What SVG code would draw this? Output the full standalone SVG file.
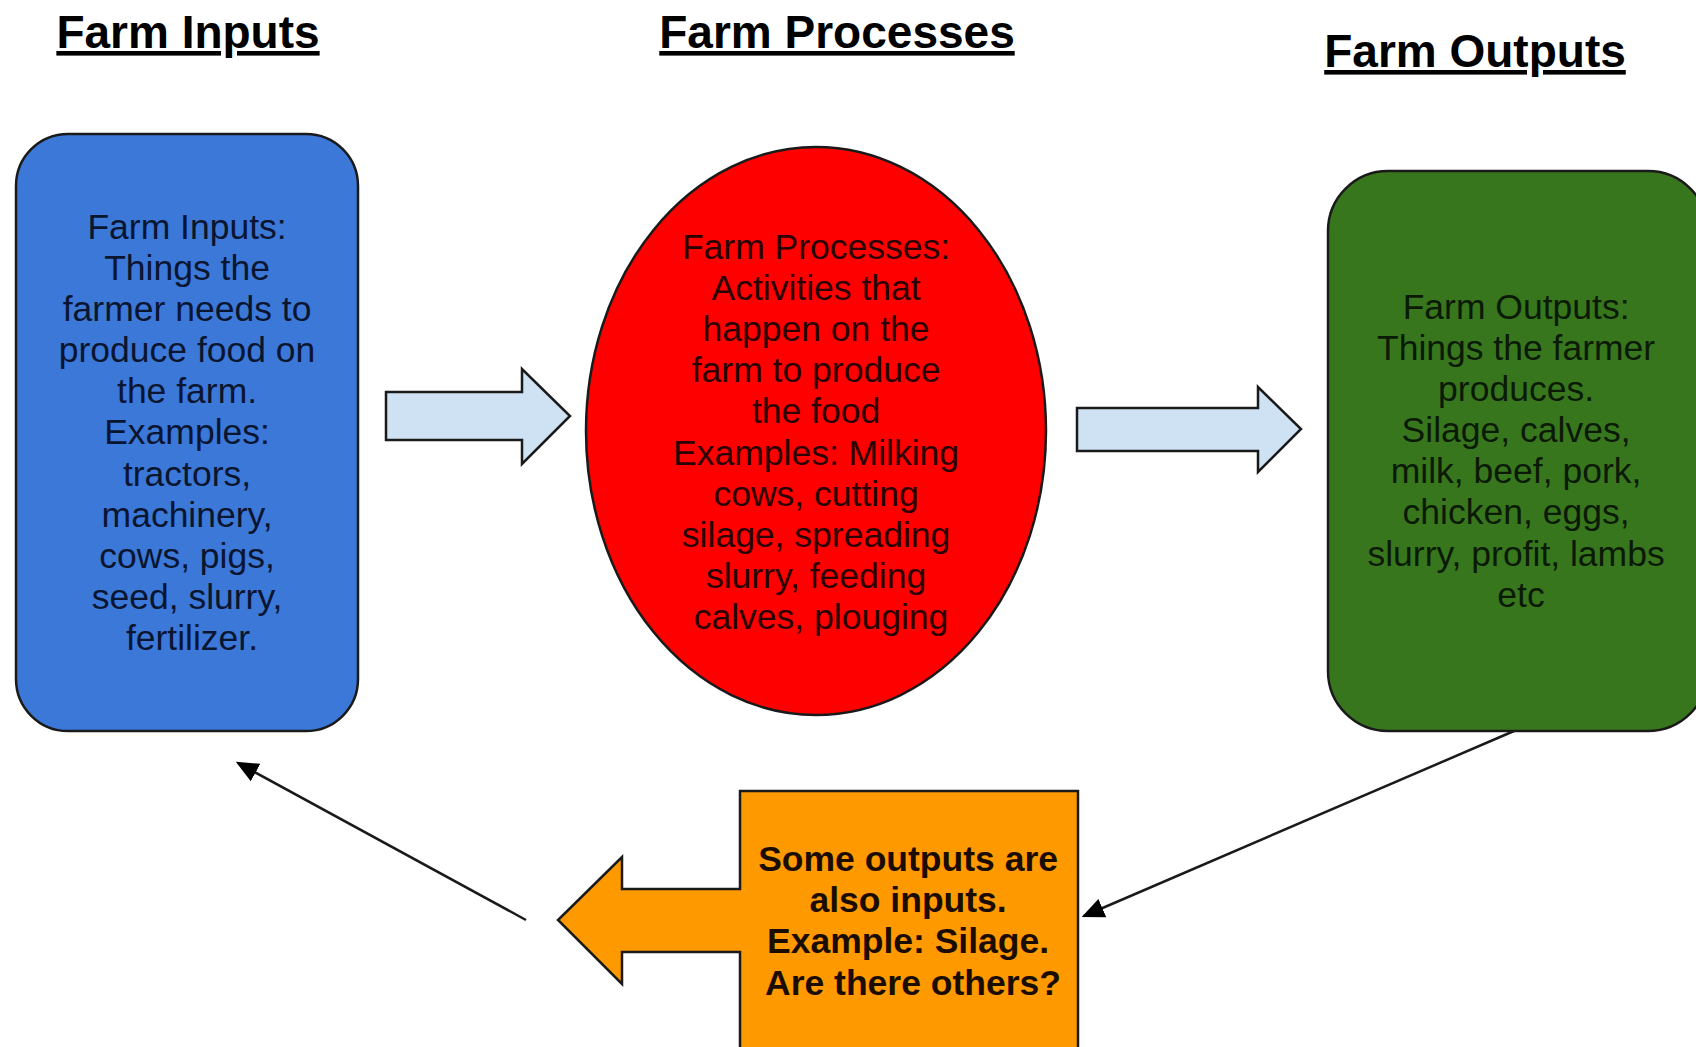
<svg xmlns="http://www.w3.org/2000/svg" width="1696" height="1047" viewBox="0 0 1696 1047">
<style>
.title{font-family:"Liberation Sans",Arial,sans-serif;font-weight:bold;font-size:46px;fill:#000;text-anchor:middle;text-decoration:underline}
.body{font-family:"Liberation Sans",Arial,sans-serif;font-size:35.5px;text-anchor:middle}
.bold{font-weight:bold}
.shape{stroke:#1a1a1a;stroke-width:2.5}
.conn{stroke:#1a1a1a;stroke-width:2.5;fill:none}
</style>
<defs>
<marker id="ah" markerWidth="10" markerHeight="10" refX="8" refY="5" orient="auto" markerUnits="strokeWidth" viewBox="0 0 10 10">
<path d="M0,1 L9,5 L0,9 Z" fill="#000"/>
</marker>
</defs>
<rect width="1696" height="1047" fill="#fff"/>
<g id="titles">
<text class="title" x="188" y="48">Farm Inputs</text>
<text class="title" x="837" y="48">Farm Processes</text>
<text class="title" x="1475" y="67">Farm Outputs</text>
</g>
<g id="connectors">
<line class="conn" x1="1514" y1="731" x2="1084" y2="916" marker-end="url(#ah)"/>
<line class="conn" x1="526" y1="920" x2="238" y2="763" marker-end="url(#ah)"/>
</g>
<g id="arrow1">
<polygon class="shape" fill="#cfe2f3" points="386,392 522,392 522,369 570,416 522,464 522,440 386,440"/>
</g>
<g id="arrow2">
<polygon class="shape" fill="#cfe2f3" points="1077,408 1258,408 1258,387 1301,429 1258,472 1258,451 1077,451"/>
</g>
<g id="inputs">
<rect class="shape" x="16" y="134" width="342" height="597" rx="52" fill="#3c78d8"/>
<text class="body" fill="#0a1530">
<tspan x="192" y="239">Farm Inputs:</tspan>
<tspan x="192" y="280">Things the</tspan>
<tspan x="192" y="321">farmer needs to</tspan>
<tspan x="192" y="362">produce food on</tspan>
<tspan x="192" y="403">the farm.</tspan>
<tspan x="192" y="444">Examples:</tspan>
<tspan x="192" y="486">tractors,</tspan>
<tspan x="192" y="527">machinery,</tspan>
<tspan x="192" y="568">cows, pigs,</tspan>
<tspan x="192" y="609">seed, slurry,</tspan>
<tspan x="192" y="650">fertilizer.</tspan>
</text>
</g>
<g id="processes">
<ellipse class="shape" cx="816" cy="431" rx="230" ry="284" fill="#ff0000"/>
<text class="body" fill="#2a0000">
<tspan x="821" y="259">Farm Processes:</tspan>
<tspan x="821" y="300">Activities that</tspan>
<tspan x="821" y="341">happen on the</tspan>
<tspan x="821" y="382">farm to produce</tspan>
<tspan x="821" y="423">the food</tspan>
<tspan x="821" y="465">Examples: Milking</tspan>
<tspan x="821" y="506">cows, cutting</tspan>
<tspan x="821" y="547">silage, spreading</tspan>
<tspan x="821" y="588">slurry, feeding</tspan>
<tspan x="821" y="629">calves, plouging</tspan>
</text>
</g>
<g id="outputs">
<rect class="shape" x="1328" y="171" width="380" height="560" rx="60" fill="#38761d"/>
<text class="body" fill="#0a1a05">
<tspan x="1521" y="319">Farm Outputs:</tspan>
<tspan x="1521" y="360">Things the farmer</tspan>
<tspan x="1521" y="401">produces.</tspan>
<tspan x="1521" y="442">Silage, calves,</tspan>
<tspan x="1521" y="483">milk, beef, pork,</tspan>
<tspan x="1521" y="524">chicken, eggs,</tspan>
<tspan x="1521" y="566">slurry, profit, lambs</tspan>
<tspan x="1521" y="607">etc</tspan>
</text>
</g>
<g id="feedback">
<path class="shape" fill="#ff9900" d="M740,791 H1078 V1060 H740 V952 H622 V984 L558,920 L622,857 V889 H740 Z"/>
<text class="body bold" fill="#1a0d00">
<tspan x="913" y="871">Some outputs are</tspan>
<tspan x="913" y="912">also inputs.</tspan>
<tspan x="913" y="953">Example: Silage.</tspan>
<tspan x="913" y="995">Are there others?</tspan>
</text>
</g>
</svg>
